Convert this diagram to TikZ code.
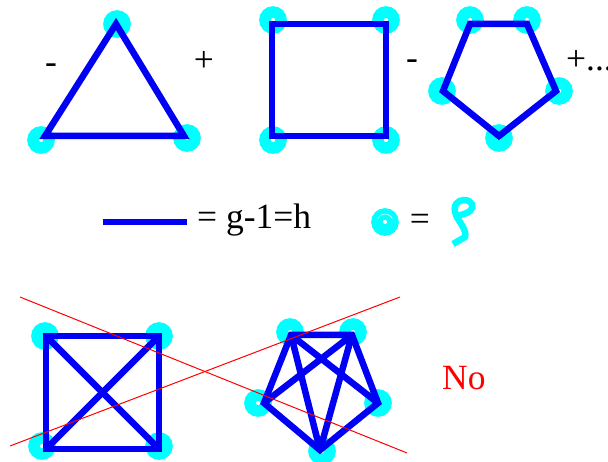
\documentclass[tikz,border=0pt]{standalone}
\usepackage{fontspec}
\setmainfont{Liberation Serif}
\usetikzlibrary{positioning}
\definecolor{cdot}{RGB}{0,255,255}
\definecolor{cedge}{RGB}{0,0,245}
\tikzset{
  vertexdot/.style={circle,draw=cdot,fill=white,line width=11.5pt,minimum size=16pt,inner sep=0pt},
  edgeline/.style={draw=cedge,line width=6.5pt},
  crossline/.style={draw=red,line width=1pt},
  termtext/.style={font=\fontsize{35.5}{38}\selectfont,inner sep=0pt},
}
\begin{document}
\begin{tikzpicture}[x=1pt,y=-1pt]
    \useasboundingbox (0,0) rectangle (608,462);
    % triangle
    \begin{scope}
      \node[vertexdot] (ta) at (117,24) {};
      \node[vertexdot] (tb) at (41,140) {};
      \node[vertexdot] (tc) at (187,138) {};
      \coordinate (tA) at (116,24);
      \coordinate (tB) at (45,136);
      \coordinate (tC) at (184,136);
      \draw[edgeline] (tA) -- (tC) -- (tB) -- cycle;
      \node[termtext] (minusa) at (51,69) {-};
      \node[termtext] (plusa) at (204,61) {+};
    \end{scope}
    % square
    \begin{scope}
      \node[vertexdot] (sa) at (273,20) {};
      \node[vertexdot] (sb) at (386,20) {};
      \node[vertexdot] (sc) at (386,140) {};
      \node[vertexdot] (sd) at (273,140) {};
      \coordinate (sA) at (272,24);
      \coordinate (sB) at (386,24);
      \coordinate (sC) at (386,136);
      \coordinate (sD) at (272,136);
      \draw[edgeline] (sA) -- (sB) -- (sC) -- (sD) -- cycle;
      \node[termtext] (minusb) at (412,65) {-};
    \end{scope}
    % pentagon
    \begin{scope}
      \node[vertexdot] (pa) at (470,20) {};
      \node[vertexdot] (pb) at (527,20) {};
      \node[vertexdot] (pc) at (559,91) {};
      \node[vertexdot] (pd) at (499,138) {};
      \node[vertexdot] (pe) at (442,91) {};
      \coordinate (pA) at (470,24);
      \coordinate (pB) at (527,24);
      \coordinate (pC) at (556,91);
      \coordinate (pD) at (499,136);
      \coordinate (pE) at (443,91);
      \draw[edgeline] (pA) -- (pB) -- (pC) -- (pD) -- (pE) -- cycle;
      \node[termtext,anchor=west] (plusb) at (566,61) {+...};
    \end{scope}
    % legend
    \begin{scope}
      \coordinate (la) at (103,222);
      \coordinate (lb) at (187,222);
      \draw[edgeline] (la) -- (lb);
      \node[termtext,anchor=west] (ltext) at (197,220) {= g-1=h};
      \node[vertexdot] (ldot) at (385,222) {};
      \draw[white,line width=0.5pt] (ldot.center) ++(205:8) arc (205:335:8);
      \node[termtext] (leq) at (420,222) {=};
      \draw[cdot,line width=6.5pt] (453,244) -- (465,237)
        .. controls (467,230) and (459,222) .. (456,215)
        .. controls (452,205) and (458,200) .. (464,200)
        .. controls (472,200) and (475,207) .. (470,211)
        .. controls (467,214) and (461,214) .. (457,217);
    \end{scope}
    % crossed square
    \begin{scope}
      \node[vertexdot] (xa) at (45,336) {};
      \node[vertexdot] (xb) at (159,336) {};
      \node[vertexdot] (xc) at (159,446) {};
      \node[vertexdot] (xd) at (42,446) {};
      \coordinate (xA) at (46,336);
      \coordinate (xB) at (159,336);
      \coordinate (xC) at (159,449);
      \coordinate (xD) at (46,449);
      \draw[edgeline] (xA) -- (xB) -- (xC) -- (xD) -- cycle;
      \draw[edgeline] (xA) -- (xC);
      \draw[edgeline] (xB) -- (xD);
    \end{scope}
    % crossed pentagon
    \begin{scope}
      \node[vertexdot] (ya) at (290,332) {};
      \node[vertexdot] (yb) at (353,332) {};
      \node[vertexdot] (yc) at (378,403) {};
      \node[vertexdot] (yd) at (322,451) {};
      \node[vertexdot] (ye) at (258,403) {};
      \coordinate (yA) at (291,335);
      \coordinate (yB) at (352,335);
      \coordinate (yC) at (378,403);
      \coordinate (yD) at (320,450);
      \coordinate (yE) at (264,403);
      \draw[edgeline] (yA) -- (yB) -- (yC) -- (yD) -- (yE) -- cycle;
      \draw[edgeline] (yA) -- (yC) (yA) -- (yD) (yB) -- (yD) (yB) -- (yE);
    \end{scope}
    % red strokes
    \coordinate (ra) at (20,297);
    \coordinate (rb) at (407,453);
    \coordinate (rc) at (10,446);
    \coordinate (rd) at (400,297);
    \draw[crossline] (ra) -- (rb);
    \draw[crossline] (rc) -- (rd);
    \node[termtext,text=red,anchor=west] (notext) at (442,378) {No};
\end{tikzpicture}
\end{document}
